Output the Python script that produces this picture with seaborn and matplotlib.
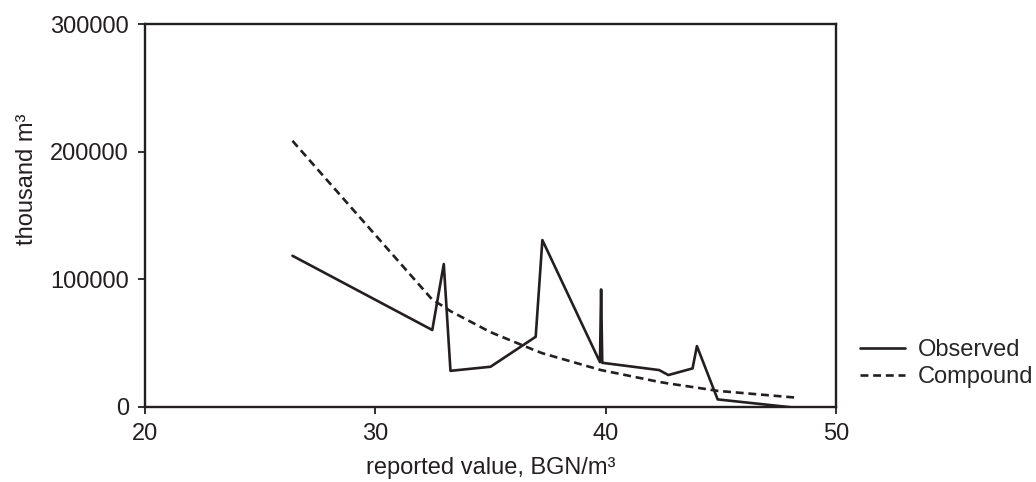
import matplotlib
matplotlib.use("Agg")
import matplotlib.pyplot as plt
import seaborn as sns
import pandas as pd

# values
price = [26.4, 32.47, 32.97, 33.26, 35.0, 36.96, 37.25, 39.75, 39.8, 39.85,
         42.32, 42.72, 43.77, 43.96, 44.86, 48.26]
observed = [118400, 60200, 111900, 28200, 31400, 54900, 130700, 35000, 92000, 34500,
            28800, 24900, 30100, 47600, 5800, -800]
compound = [208500, 84000, 78500, 75000, 58500, 44000, 42000, 29000, 28800, 28600,
            19500, 18300, 15500, 15000, 12500, 7200]

df = pd.DataFrame({"price": price, "Observed": observed, "Compound": compound})
long = df.melt(id_vars="price", var_name="series", value_name="volume")

sns.set_style("white")
plt.rcParams["font.family"] = ["Liberation Sans", "DejaVu Sans"]
ink = "#231f20"
fs = 17

fig = plt.figure(figsize=(10.36, 4.82), dpi=100)
ax = fig.add_axes([0.140, 0.156, 0.667, 0.794])

sns.lineplot(data=long, x="price", y="volume", style="series",
             style_order=["Observed", "Compound"],
             dashes={"Observed": "", "Compound": (3, 1.8)},
             color=ink, linewidth=1.9, sort=False, ax=ax)

ax.set_xlim(20, 50)
ax.set_ylim(0, 300000)
ax.set_xticks([20, 30, 40, 50])
ax.set_yticks([0, 100000, 200000, 300000])
ax.tick_params(axis="both", direction="out", length=5, width=1.3, labelsize=fs,
               pad=6.5, colors=ink, left=True, bottom=True)
for s in ax.spines.values():
    s.set_linewidth(1.7)
    s.set_color(ink)

ax.set_xlabel("reported value, BGN/m³", fontsize=fs, color=ink, labelpad=9)
ax.set_ylabel("thousand m³", fontsize=fs, color=ink)
ax.yaxis.set_label_coords(-0.155, 0.595)

leg = ax.legend(loc="center left", bbox_to_anchor=(0.830, 0.246),
                bbox_transform=fig.transFigure, frameon=False, fontsize=fs,
                handlelength=1.9, handletextpad=0.55, labelspacing=0.2,
                borderpad=0, borderaxespad=0, title=None)
for h in leg.get_lines():
    h.set_linewidth(1.9)

fig.savefig("out.png", dpi=100)
